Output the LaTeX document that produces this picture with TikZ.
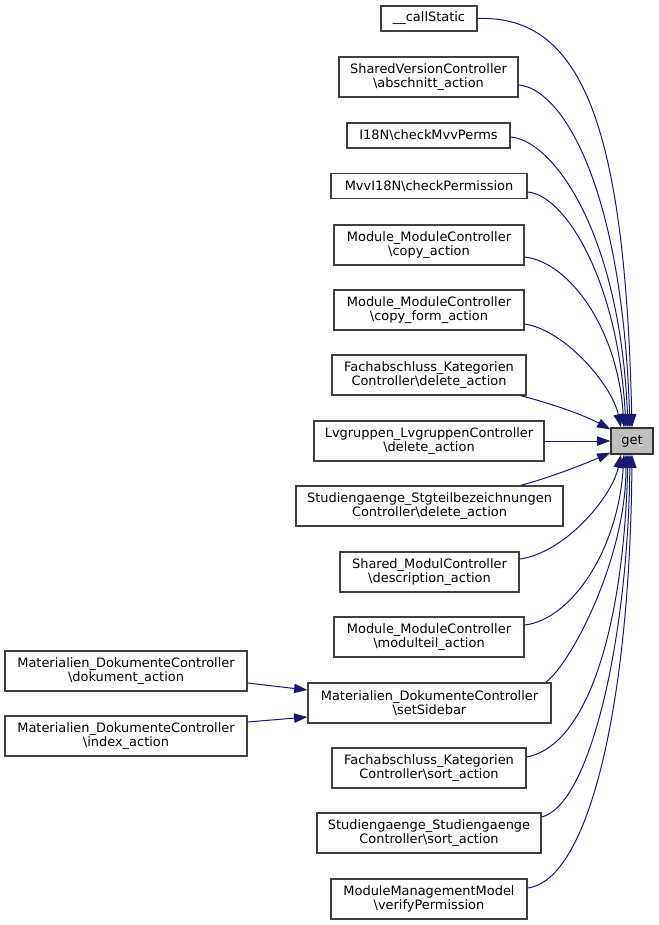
\documentclass[tikz,border=0pt]{standalone}
\usepackage{fontspec}
\setmainfont{DejaVu Sans}
\usetikzlibrary{arrows.meta,calc}
\definecolor{edgeblue}{HTML}{191970}
\definecolor{boxline}{HTML}{404040}
\definecolor{getfill}{HTML}{BFBFBF}
\tikzset{
  bx/.style={draw=boxline, line width=0.9pt, fill=white, inner sep=0pt, align=center,
    font=\fontsize{9.7}{10.8}\selectfont, minimum height=30pt},
  bxone/.style={bx, minimum height=18.75pt},
  edge/.style={draw=edgeblue, line width=0.75pt, -{Triangle[length=10pt,width=7pt]}},
}
\begin{document}
\begin{tikzpicture}[x=0.75pt,y=-0.75pt]
\fill[white] (0,0) rectangle (659,925);
\useasboundingbox (0,0) rectangle (659,925);

\node[bxone, minimum width=96*0.75pt]  (n1)  at (429,18.5)  {\_\_callStatic};
\node[bx,    minimum width=179*0.75pt] (n2)  at (428.5,77)  {SharedVersionController\\\textbackslash abschnitt\_action};
\node[bxone, minimum width=163*0.75pt] (n3)  at (428.5,135.5) {I18N\textbackslash checkMvvPerms};
\node[bxone, minimum width=196*0.75pt] (n4)  at (429,186)   {MvvI18N\textbackslash checkPermission};
\node[bx,    minimum width=190*0.75pt] (n5)  at (429,245)   {Module\_ModuleController\\\textbackslash copy\_action};
\node[bx,    minimum width=190*0.75pt] (n6)  at (429,310)   {Module\_ModuleController\\\textbackslash copy\_form\_action};
\node[bx,    minimum width=194*0.75pt] (n7)  at (429,375)   {Fachabschluss\_Kategorien\\Controller\textbackslash delete\_action};
\node[bx,    minimum width=230*0.75pt] (n8)  at (429,441)   {Lvgruppen\_LvgruppenController\\\textbackslash delete\_action};
\node[bx,    minimum width=267*0.75pt] (n9)  at (429.5,506) {Studiengaenge\_Stgteilbezeichnungen\\Controller\textbackslash delete\_action};
\node[bx,    minimum width=179*0.75pt] (n10) at (429.5,572) {Shared\_ModulController\\\textbackslash description\_action};
\node[bx,    minimum width=190*0.75pt] (n11) at (429,637)   {Module\_ModuleController\\\textbackslash modulteil\_action};
\node[bx,    minimum width=243*0.75pt] (n12) at (429.5,703) {Materialien\_DokumenteController\\\textbackslash setSidebar};
\node[bx,    minimum width=194*0.75pt] (n13) at (429,768)   {Fachabschluss\_Kategorien\\Controller\textbackslash sort\_action};
\node[bx,    minimum width=224*0.75pt] (n14) at (429,833)   {Studiengaenge\_Studiengaenge\\Controller\textbackslash sort\_action};
\node[bx,    minimum width=196*0.75pt] (n15) at (429,899)   {ModuleManagementModel\\\textbackslash verifyPermission};
\node[bx,    minimum width=242*0.75pt] (l1)  at (126,671)   {Materialien\_DokumenteController\\\textbackslash dokument\_action};
\node[bx,    minimum width=242*0.75pt] (l2)  at (126,736)   {Materialien\_DokumenteController\\\textbackslash index\_action};
\node[bxone, minimum width=42*0.75pt, minimum height=19.5pt, fill=getfill, draw=black!80] (get) at (632,441) {get};

% top group
\draw[edge] (n1.east) .. controls (580,15) and (625,120) .. (get.north);
\draw[edge] ($(n2.east)+(0,8)$) .. controls (560,88) and (622,180) .. ($(get.north)+(-2,0)$);
\draw[edge] ($(n3.east)+(0,1.5)$) .. controls (552,140) and (620,230) .. ($(get.north)+(-4,0)$);
\draw[edge] ($(n4.east)+(0,6)$) .. controls (565,195) and (618,280) .. ($(get.north)+(-6,0)$);
\draw[edge] ($(n5.east)+(0,12)$) .. controls (570,262) and (618,330) .. ($(get.north)+(-8,0)$);
\draw[edge] ($(n6.east)+(0,14)$) .. controls (565,330) and (612,385) .. ($(get.north)+(-11,0)$);
% side group
\draw[edge] ($(n7.south east)+(-6,0)$) .. controls (545,402) and (580,413) .. ($(get.north west)+(0,2)$);
\draw[edge] (n8.east) -- (get.west);
\draw[edge] ($(n9.north east)+(-43,0)$) .. controls (545,479) and (580,466) .. ($(get.south west)+(0,-2)$);
% bottom group
\draw[edge] ($(n10.east)+(0,-13)$) .. controls (565,553) and (612,497) .. ($(get.south)+(-11,0)$);
\draw[edge] ($(n11.east)+(0,-12)$) .. controls (570,620) and (618,552) .. ($(get.south)+(-8,0)$);
\draw[edge] ($(n12.north east)+(-6,0)$) .. controls (570,665) and (626,560) .. ($(get.south)+(-6,0)$);
\draw[edge] ($(n13.east)+(0,-11)$) .. controls (590,745) and (624,620) .. ($(get.south)+(-4,0)$);
\draw[edge] ($(n14.east)+(0,-16)$) .. controls (590,805) and (628,640) .. ($(get.south)+(-2,0)$);
\draw[edge] ($(n15.east)+(0,-11)$) .. controls (590,880) and (630,700) .. (get.south);
% left
\draw[edge] ($(l1.east)+(0,12)$) -- ($(n12.west)+(0,-13)$);
\draw[edge] ($(l2.east)+(0,-14)$) -- ($(n12.west)+(0,14)$);
\end{tikzpicture}
\end{document}
